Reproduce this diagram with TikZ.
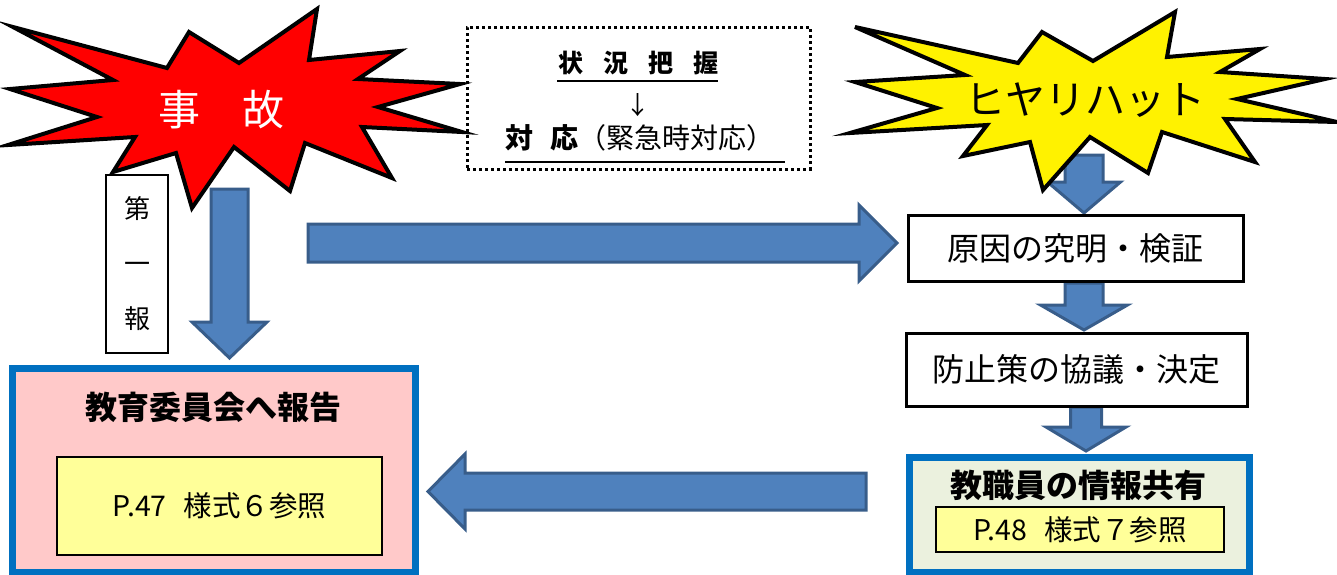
\documentclass[tikz,border=0pt]{standalone}
\usepackage{fontspec}
\setmainfont{Noto Sans CJK JP}
\usetikzlibrary{calc}
\definecolor{arrowfill}{HTML}{4F81BD}
\definecolor{arrowline}{HTML}{385D8A}
\definecolor{frameblue}{HTML}{0070C0}
\definecolor{pinkbox}{HTML}{FFC9C9}
\definecolor{paleyellow}{HTML}{FFFF99}
\definecolor{palegreen}{HTML}{EBF1DE}
\newcommand\jfs[1]{\fontsize{#1}{#1}\selectfont}
\newcommand\blockarrow[5]{
	\coordinate(hb) at ($(#2)!#5!(#1)$);
	\path[barrow] ($(#1)!#3!90:(#2)$) -- ($(hb)!#3!90:(#2)$) -- ($(hb)!#4!90:(#2)$) -- (#2)
		-- ($(hb)!#4!-90:(#2)$) -- ($(hb)!#3!-90:(#2)$) -- ($(#1)!#3!-90:(#2)$) -- cycle;
}
\begin{document}
\begin{tikzpicture}[x=1pt,y=-1pt,
	barrow/.style={fill=arrowfill,draw=arrowline,line width=3pt},
	burst/.style={draw=black,line width=4pt,line join=miter},
	plainbox/.style={draw=black,line width=3pt,fill=white},
	bluebox/.style={draw=frameblue,line width=7pt},
	refbox/.style={draw=black,line width=1.2pt,fill=paleyellow,font=\jfs{28.5}}]
		\useasboundingbox (0,0) rectangle (1337,574);

		\coordinate(a1) at (229.5,189);
		\coordinate(a1e) at (229.5,358);
		\coordinate(a2) at (308,243);
		\coordinate(a2e) at (897,243);
		\coordinate(a3) at (866,491.5);
		\coordinate(a3e) at (428,491.5);
		\coordinate(b1) at (1084,155);
		\coordinate(b1e) at (1084,213);
		\coordinate(b2) at (1084,283);
		\coordinate(b2e) at (1084,330);
		\coordinate(b3) at (1086,407);
		\coordinate(b3e) at (1086,451);

		\blockarrow{a1}{a1e}{18.5pt}{37.5pt}{36pt}
		\blockarrow{a2}{a2e}{19pt}{38pt}{38pt}
		\blockarrow{a3}{a3e}{18.5pt}{37.5pt}{37pt}
		\blockarrow{b1}{b1e}{19pt}{36.5pt}{31pt}
		\blockarrow{b2}{b2e}{19pt}{43.5pt}{25pt}
		\blockarrow{b3}{b3e}{15.5pt}{40pt}{24pt}

		\draw[burst,fill=red] (13,27) -- (167,68) -- (189,32) -- (239,63) -- (317,9) -- (309,60)
			-- (400,51) -- (358,79) -- (460,84) -- (378,107) -- (462,132) -- (362,127)
			-- (392,178) -- (305,143) -- (290,191) -- (234,147) -- (192,208) -- (176,153)
			-- (113,172) -- (135,137) -- (8,145) -- (97,117) -- (10,89) -- (113,80) -- cycle;
		\draw[burst,fill=yellow] (855,27) -- (1018,63) -- (1042,32) -- (1093,61) -- (1175,12) -- (1167,57)
			-- (1260,49) -- (1220,72) -- (1325,79) -- (1237,99) -- (1337,122) -- (1225,119)
			-- (1255,162) -- (1162,132) -- (1148,173) -- (1090,137) -- (1043,190) -- (1030,142)
			-- (963,156) -- (987,125) -- (850,133) -- (937,108) -- (855,82) -- (965,75) -- cycle;

		\node(jiko) [text=white,font=\jfs{42}] at (221,110) {事　故};
		\node(hiyari) [font=\jfs{40}] at (1085,100) {ヒヤリハット};

		\node(daiippo) [plainbox,line width=2.5pt,minimum width=62pt,minimum height=178pt,align=center,
			font=\fontsize{26}{55}\selectfont] at (137,264) {第\\一\\報};

		\node(taio) [draw,line width=3pt,dash pattern=on 3pt off 3pt,minimum width=343pt,minimum height=142pt] at (638.5,98) {};
		\node(haaku) [font=\jfs{25}\bfseries] at (638,63) {状\hspace{.8em}況\hspace{.8em}把\hspace{.8em}握};
		\node(yajirushi) [font=\jfs{25}] at (638,105) {↓};
		\node(kinkyu) [font=\jfs{28}] at (640,138) {\textbf{対\hspace{.6em}応}（緊急時対応）};
		\draw[line width=2pt] (557,81) -- (718,81);
		\draw[line width=2pt] (505,162) -- (785,162);

		\node(genin) [plainbox,minimum width=335pt,minimum height=66pt,font=\jfs{32}] at (1075.5,248) {原因の究明・検証};
		\node(boushi) [plainbox,minimum width=341pt,minimum height=73pt,font=\jfs{32}] at (1076.5,369.5) {防止策の協議・決定};

		\node(hokoku) [bluebox,fill=pinkbox,minimum width=403pt,minimum height=204pt] at (213.5,470) {};
		\node(hokokut) [font=\jfs{32}\bfseries] at (213,407) {教育委員会へ報告};
		\node(yoshiki6) [refbox,minimum width=325pt,minimum height=98pt] at (219.5,506) {P.47\hspace{.6em}様式６参照};

		\node(kyoyu) [bluebox,fill=palegreen,minimum width=340pt,minimum height=115pt] at (1079,514.5) {};
		\node(kyoyut) [font=\jfs{32}\bfseries] at (1078,485) {教職員の情報共有};
		\node(yoshiki7) [refbox,minimum width=288pt,minimum height=45pt] at (1080,529.5) {P.48\hspace{.6em}様式７参照};
\end{tikzpicture}
\end{document}
